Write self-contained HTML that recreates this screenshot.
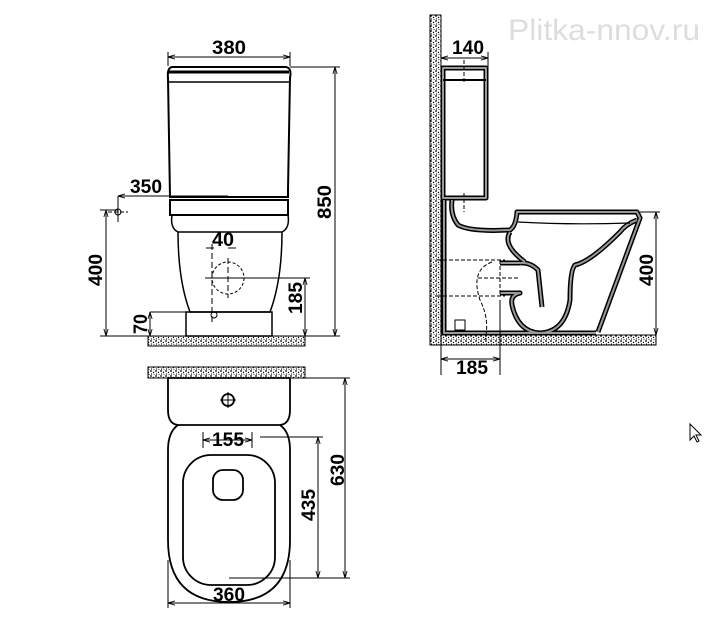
<!DOCTYPE html>
<html><head><meta charset="utf-8"><style>html,body{margin:0;padding:0;background:#fff}svg{display:block}</style></head><body>
<svg width="711" height="626" viewBox="0 0 711 626" xmlns="http://www.w3.org/2000/svg" font-family="Liberation Sans, sans-serif">
<defs>
<pattern id="h" width="5" height="5" patternUnits="userSpaceOnUse"><rect width="5" height="5" fill="#fff"/><circle cx="1" cy="1" r="0.9" fill="#000"/><circle cx="3.5" cy="2.5" r="0.7" fill="#000"/><circle cx="1.5" cy="4" r="0.6" fill="#000"/><circle cx="4" cy="4.5" r="0.5" fill="#000"/></pattern>
<marker id="a" viewBox="0 0 10 10" refX="10" refY="5" markerWidth="7" markerHeight="7" orient="auto-start-reverse"><path d="M0,2 L10,5 L0,8" fill="none" stroke="#000" stroke-width="1.2"/></marker>
</defs>
<text x="508" y="40" font-size="30" fill="#ddd" textLength="192" lengthAdjust="spacingAndGlyphs">Plitka-nnov.ru</text>
<g fill="none" stroke="#000" stroke-width="1.5">
<rect x="148" y="336" width="157" height="10" fill="url(#h)" stroke-width="1"/>
<path d="M172,67 H286 Q292,68 290,78 L288,190 V197 H170 L168,78 Q167,68 172,67 Z" stroke-width="2"/>
<line x1="169" y1="72" x2="289" y2="72" stroke-width="3"/>
<line x1="168" y1="82" x2="290" y2="82"/>
<path d="M170,200 H288 V215 H170 Z" stroke-width="2"/>
<path d="M172,215 Q170,228 178,232 H282 Q290,228 288,215"/>
<path d="M178,232 Q178,280 190,312 H270 Q282,280 282,232"/>
<rect x="186" y="312" width="86" height="24"/>
<circle cx="228" cy="278" r="16" stroke-dasharray="3 2" stroke-width="1"/>
<circle cx="214" cy="315" r="3" stroke-width="1"/>
<circle cx="118" cy="212" r="3" stroke-width="1"/>
</g>
<g stroke="#000" stroke-width="1" fill="none">
<line x1="168" y1="57" x2="290" y2="57" marker-start="url(#a)" marker-end="url(#a)"/>
<line x1="168" y1="52" x2="168" y2="66"/><line x1="290" y1="52" x2="290" y2="66"/>
<line x1="290" y1="67" x2="340" y2="67"/><line x1="272" y1="336" x2="340" y2="336"/>
<line x1="335" y1="67" x2="335" y2="336" marker-start="url(#a)" marker-end="url(#a)"/>
<line x1="228" y1="196" x2="118" y2="196" marker-end="url(#a)"/>
<line x1="118" y1="196" x2="118" y2="222"/><line x1="108" y1="212" x2="128" y2="212" stroke-dasharray="4 2"/>
<line x1="100" y1="210" x2="118" y2="210"/>
<line x1="106" y1="210" x2="106" y2="336" marker-start="url(#a)" marker-end="url(#a)"/>
<line x1="100" y1="336" x2="186" y2="336"/>
<line x1="150" y1="312" x2="214" y2="312"/>
<line x1="150" y1="312" x2="150" y2="336" marker-start="url(#a)" marker-end="url(#a)"/>
<line x1="206" y1="248" x2="214" y2="248"/><line x1="228" y1="248" x2="236" y2="248"/>
<line x1="212" y1="244" x2="212" y2="325" stroke-dasharray="6 3"/>
<line x1="228" y1="258" x2="228" y2="298" stroke-dasharray="6 3"/>
<line x1="205" y1="278" x2="310" y2="278"/>
<line x1="305" y1="278" x2="305" y2="336" marker-start="url(#a)" marker-end="url(#a)"/>
</g>
<g font-weight="bold" font-size="19" text-anchor="middle" fill="#000">
<text x="229" y="54" textLength="34" lengthAdjust="spacingAndGlyphs">380</text>
<text x="146" y="193" textLength="32" lengthAdjust="spacingAndGlyphs">350</text>
<text x="223" y="246" textLength="22" lengthAdjust="spacingAndGlyphs">40</text>
<text transform="translate(331,202) rotate(-90)" textLength="34" lengthAdjust="spacingAndGlyphs">850</text>
<text transform="translate(102,270) rotate(-90)" textLength="32" lengthAdjust="spacingAndGlyphs">400</text>
<text transform="translate(302,298) rotate(-90)" textLength="32" lengthAdjust="spacingAndGlyphs">185</text>
<text transform="translate(147,324) rotate(-90)" textLength="20" lengthAdjust="spacingAndGlyphs">70</text>
<text x="468" y="54" textLength="32" lengthAdjust="spacingAndGlyphs">140</text>
<text x="472" y="374" textLength="32" lengthAdjust="spacingAndGlyphs">185</text>
<text transform="translate(653,270) rotate(-90)" textLength="32" lengthAdjust="spacingAndGlyphs">400</text>
<text x="228" y="446" textLength="32" lengthAdjust="spacingAndGlyphs">155</text>
<text x="229" y="601" textLength="32" lengthAdjust="spacingAndGlyphs">360</text>
<text transform="translate(344,470) rotate(-90)" textLength="32" lengthAdjust="spacingAndGlyphs">630</text>
<text transform="translate(315,505) rotate(-90)" textLength="32" lengthAdjust="spacingAndGlyphs">435</text>
</g>
<!-- side view -->
<rect x="430" y="15" width="11" height="330" fill="url(#h)" stroke="#000" stroke-width="1"/>
<rect x="441" y="335" width="215" height="10" fill="url(#h)" stroke="#000" stroke-width="1"/>
<g fill="none" stroke-linejoin="round">
<g stroke="#000" stroke-width="5">
<path d="M443,68 H486 V198 H443 Z"/>
<path d="M444,200 V333 H596"/>
<path d="M452,200 Q450,215 458,225 Q470,232 510,230 Q516,226 517,212 H637 L640,218 Q628,250 598,332"/>
<path d="M637,220 Q626,224 620,232 Q590,262 575,265 Q570,270 570,300 Q565,332 540,333 Q518,332 512,305 Q510,295 520,293 H500"/>
<path d="M520,263 H500 M520,263 Q530,262 538,270 L542,307"/>
<path d="M510,232 Q502,245 525,262"/>
</g>
<g stroke="#999" stroke-width="2">
<path d="M443,68 H486 V198 H443 Z"/>
<path d="M444,200 V333 H596"/>
<path d="M452,200 Q450,215 458,225 Q470,232 510,230 Q516,226 517,212 H637 L640,218 Q628,250 598,332"/>
<path d="M637,220 Q626,224 620,232 Q590,262 575,265 Q570,270 570,300 Q565,332 540,333 Q518,332 512,305 Q510,295 520,293 H500"/>
<path d="M520,263 H500 M520,263 Q530,262 538,270 L542,307"/>
<path d="M510,232 Q502,245 525,262"/>
</g>
<path d="M518,222 Q570,225 630,223" stroke="#000" stroke-width="1.2"/>
<line x1="443" y1="80" x2="486" y2="80" stroke="#000" stroke-width="2"/>
</g>
<g stroke="#000" stroke-width="1" fill="none">
<line x1="441" y1="58" x2="488" y2="58" marker-start="url(#a)" marker-end="url(#a)"/>
<line x1="488" y1="52" x2="488" y2="68"/>
<line x1="464" y1="60" x2="464" y2="82" stroke-dasharray="4 2"/>
<line x1="464" y1="193" x2="464" y2="212" stroke-dasharray="4 2"/>
<line x1="640" y1="212" x2="660" y2="212"/>
<line x1="656" y1="212" x2="656" y2="335" marker-start="url(#a)" marker-end="url(#a)"/>
<line x1="441" y1="359" x2="500" y2="359" marker-start="url(#a)" marker-end="url(#a)"/>
<line x1="441" y1="340" x2="441" y2="375"/><line x1="500" y1="300" x2="500" y2="375"/>
<path d="M437,260 H505 M437,296 H505 M478,278 H520 M500,260 V296 M492,262 Q470,270 480,300 Q490,320 485,340" stroke-dasharray="4 2"/>
<rect x="455" y="320" width="10" height="10"/>
</g>
<!-- top view -->
<rect x="148" y="367" width="157" height="11" fill="url(#h)" stroke="#000" stroke-width="1"/>
<g fill="none" stroke="#000" stroke-width="1.8">
<path d="M168,378 H290 V410 Q290,424 280,425 H178 Q168,424 168,410 Z"/>
<path d="M178,425 Q168,432 168,450 V540 Q168,602 229,602 Q290,602 290,540 V450 Q290,432 280,425"/>
<rect x="183" y="455" width="92" height="130" rx="28"/>
<rect x="213" y="470" width="30" height="30" rx="10"/>
<circle cx="228" cy="400" r="6"/>
</g>
<g stroke="#000" stroke-width="1" fill="none">
<line x1="203" y1="440" x2="252" y2="440" marker-start="url(#a)" marker-end="url(#a)"/>
<line x1="203" y1="432" x2="203" y2="448"/><line x1="252" y1="432" x2="252" y2="448"/>
<line x1="228" y1="392" x2="228" y2="408"/><line x1="220" y1="400" x2="236" y2="400"/>
<line x1="290" y1="378" x2="350" y2="378"/><line x1="229" y1="578" x2="350" y2="578"/>
<line x1="345" y1="378" x2="345" y2="578" marker-start="url(#a)" marker-end="url(#a)"/>
<line x1="260" y1="437" x2="323" y2="437"/>
<line x1="318" y1="437" x2="318" y2="578" marker-start="url(#a)" marker-end="url(#a)"/>
<line x1="168" y1="560" x2="168" y2="608"/><line x1="290" y1="560" x2="290" y2="608"/>
<line x1="168" y1="603" x2="290" y2="603" marker-start="url(#a)" marker-end="url(#a)"/>
</g>
<path d="M690,424 V440 L694,436 L697,442 L699,441 L696,435 L701,435 Z" fill="#fff" stroke="#000" stroke-width="1"/>
</svg>
</body></html>
